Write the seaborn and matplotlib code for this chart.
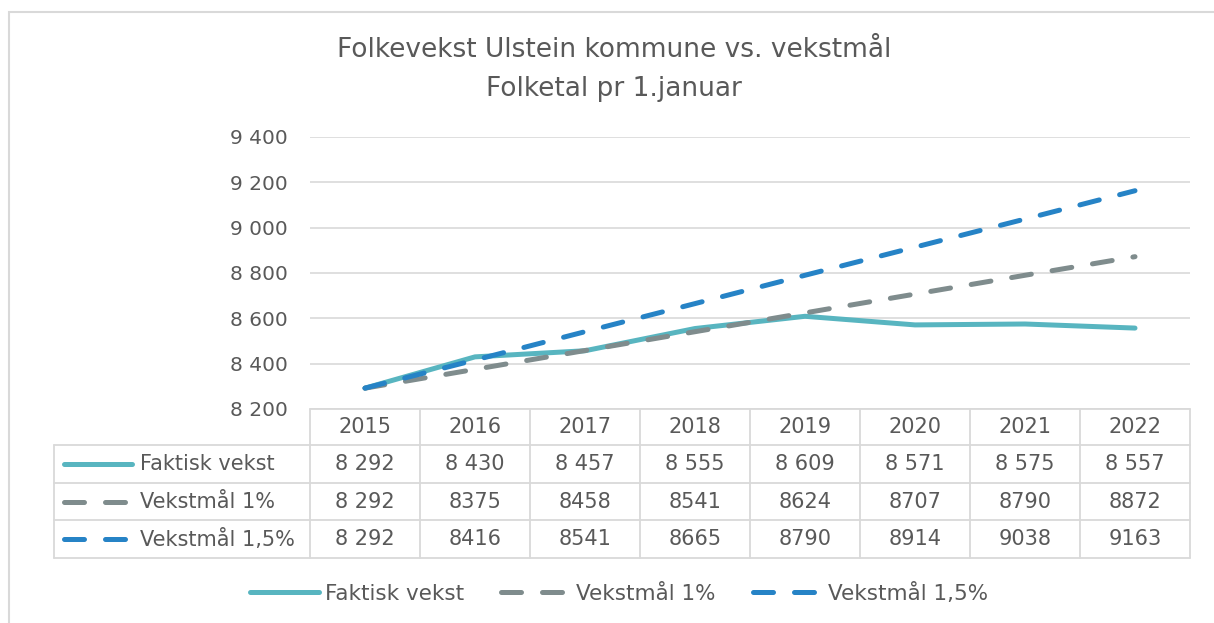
import numpy as np
import pandas as pd
import matplotlib
matplotlib.use('Agg')
import matplotlib.pyplot as plt
import matplotlib.transforms as mtransforms
from matplotlib.lines import Line2D
from matplotlib.patches import Rectangle
from matplotlib.ticker import FuncFormatter
import seaborn as sns

# data
years = [2015, 2016, 2017, 2018, 2019, 2020, 2021, 2022]
faktisk = [8292, 8430, 8457, 8555, 8609, 8571, 8575, 8557]
maal_1 = [8292, 8375, 8458, 8541, 8624, 8707, 8790, 8872]
maal_15 = [8292, 8416, 8541, 8665, 8790, 8914, 9038, 9163]
series_names = ['Faktisk vekst', 'Vekstmål 1%', 'Vekstmål 1,5%']
title_lines = ['Folkevekst Ulstein kommune vs. vekstmål', 'Folketal pr 1.januar']
y_ticks = [8200, 8400, 8600, 8800, 9000, 9200, 9400]

colors = {'Faktisk vekst': '#58B5C0', 'Vekstmål 1%': '#7F8C8D', 'Vekstmål 1,5%': '#2683C6'}
dash_map = {'Faktisk vekst': '', 'Vekstmål 1%': (4.0, 4.2), 'Vekstmål 1,5%': (4.0, 4.2)}
txt_color = '#595959'
grid_color = '#D9D9D9'

sns.set_style('white')
plt.rcParams['font.family'] = ['DejaVu Sans']

W, H = 1214, 623
fig = plt.figure(figsize=(W / 100, H / 100), dpi=100)


def fx(px):
    return px / W


def fy(px):
    return 1 - px / H


# plot area
ax = fig.add_axes([fx(310), fy(409), fx(1190) - fx(310), fy(137) - fy(409)])

idx = list(range(len(years)))
df = pd.concat([
    pd.DataFrame({'i': idx, 'verdi': vals, 'serie': name})
    for name, vals in zip(series_names, [faktisk, maal_1, maal_15])
])

sns.lineplot(data=df, x='i', y='verdi', hue='serie', style='serie',
             palette=colors, dashes=dash_map, hue_order=series_names,
             style_order=series_names, linewidth=3.6, legend=False, ax=ax)
for ln in ax.get_lines():
    ln.set_dash_capstyle('round')
    ln.set_solid_capstyle('round')
    ln.set_solid_joinstyle('round')

ax.set_xlim(-0.5, len(years) - 0.5)
ax.set_ylim(8200, 9400)
ax.set_yticks(y_ticks)
ax.yaxis.set_major_formatter(FuncFormatter(lambda v, p: f'{int(v):,}'.replace(',', ' ')))
ax.set_xticks([])
ax.set_xlabel('')
ax.set_ylabel('')
ax.tick_params(axis='y', length=0, pad=16, labelsize=14.5, labelcolor=txt_color)
ax.grid(axis='y', color=grid_color, linewidth=1.2)
ax.set_axisbelow(True)
for s in ax.spines.values():
    s.set_visible(False)

# title
fig.text(fx(614), fy(50), title_lines[0], ha='center', va='center', fontsize=19, color=txt_color)
fig.text(fx(614), fy(89), title_lines[1], ha='center', va='center', fontsize=19, color=txt_color)

# data table under the axis
tr = mtransforms.blended_transform_factory(ax.transData, fig.transFigure)
row_edges = [409, 445, 483, 520, 558]
lw_tab = 1.3
# horizontal lines
fig.add_artist(Line2D([fx(310), fx(1190)], [fy(409), fy(409)], color=grid_color, lw=lw_tab))
for yy in row_edges[1:]:
    fig.add_artist(Line2D([fx(54), fx(1190)], [fy(yy), fy(yy)], color=grid_color, lw=lw_tab))
# vertical lines
fig.add_artist(Line2D([fx(54), fx(54)], [fy(445), fy(558)], color=grid_color, lw=lw_tab))
for k in range(len(years) + 1):
    xe = k - 0.5
    fig.add_artist(Line2D([xe, xe], [fy(409), fy(558)], color=grid_color, lw=lw_tab, transform=tr))


def fmt_num(v, plain=False):
    return str(v) if plain else f'{v:,}'.replace(',', ' ')


for i, yr in enumerate(years):
    fig.text(i, fy(427), str(yr), transform=tr, ha='center', va='center', fontsize=15, color=txt_color)

row_centers = [464, 502, 539]
for r, (name, vals) in enumerate(zip(series_names, [faktisk, maal_1, maal_15])):
    yc = fy(row_centers[r])
    for i, v in enumerate(vals):
        plain = r > 0 and i > 0
        fig.text(i, yc, fmt_num(v, plain), transform=tr, ha='center', va='center',
                 fontsize=15, color=txt_color)
    fig.add_artist(Line2D([fx(64), fx(132)], [yc, yc], color=colors[name], lw=3.6,
                          dashes=dash_map[name] if dash_map[name] else (None, None),
                          dash_capstyle='round', solid_capstyle='round'))
    fig.text(fx(140), yc, name, ha='left', va='center', fontsize=15, color=txt_color)

# legend at bottom
handles = [Line2D([], [], color=colors[n], lw=3.6,
                  dashes=dash_map[n] if dash_map[n] else (None, None),
                  dash_capstyle='round', solid_capstyle='round') for n in series_names]
fig.legend(handles, series_names, loc='center', bbox_to_anchor=(fx(619), fy(593)),
           ncol=3, frameon=False, fontsize=15.5, labelcolor=txt_color,
           handlelength=3.2, handletextpad=0.3, columnspacing=1.7)

# outer chart border
fig.add_artist(Rectangle((fx(8.5), -0.05), 1.1, fy(11.5) + 0.05, fill=False,
                         edgecolor=grid_color, lw=1.5))

fig.savefig('out.png', dpi=100)
